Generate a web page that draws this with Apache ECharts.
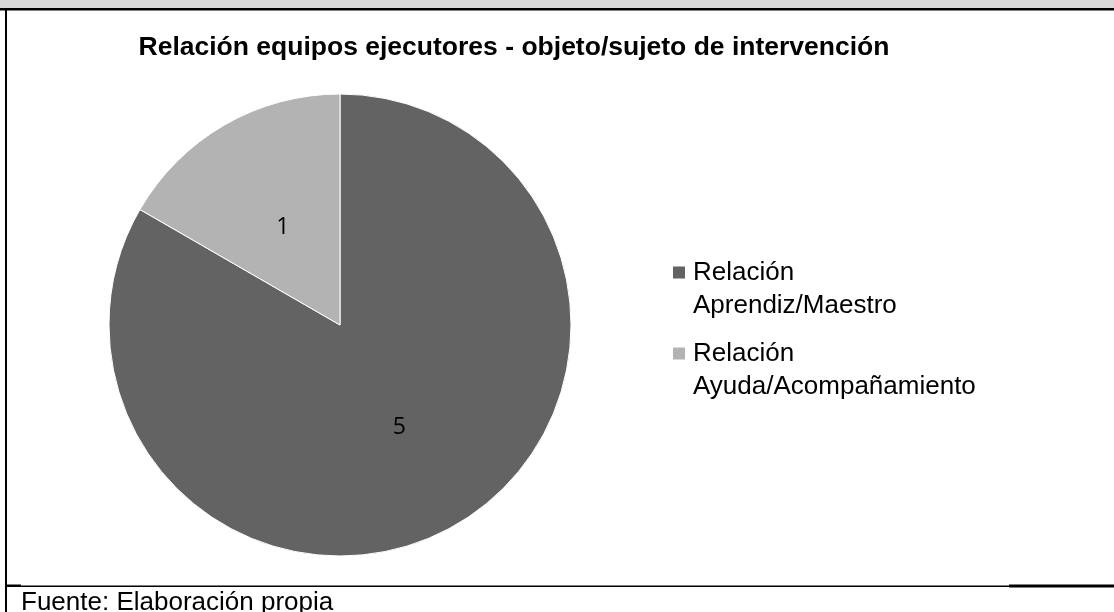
<!DOCTYPE html>
<html>
<head>
<meta charset="utf-8">
<title>Relación equipos ejecutores</title>
<script src="https://cdn.jsdelivr.net/npm/echarts@6/dist/echarts.min.js"></script>
<style>
  html, body { margin: 0; padding: 0; background: #fff; }
  #chart { width: 1114px; height: 612px; }
</style>
</head>
<body>
<div id="chart"></div>
<script>
const title = 'Relación equipos ejecutores - objeto/sujeto de intervención'
const categories = ['Relación Aprendiz/Maestro', 'Relación Ayuda/Acompañamiento']
const values = [5, 1]
const source = 'Fuente: Elaboración propia'

const colors = ['#636363', '#b3b3b3']
const font = '"Liberation Sans", Arial, sans-serif'

const chart = echarts.init(document.getElementById('chart'), null, { renderer: 'canvas' })

// legend text: first word on line one, the rest indented under it
const rich = {
  g: { width: 8 },
  i: { width: 20 },
  t: { fontSize: 26, fontFamily: font, color: '#000', lineHeight: 33 }
}
colors.forEach((c, i) => {
  rich['s' + i] = { width: 12, height: 12, backgroundColor: c }
})

chart.setOption({
  animation: false,
  color: colors,
  title: {
    text: title,
    left: 514,
    textAlign: 'center',
    top: 34,
    padding: 0,
    textStyle: {
      fontFamily: font,
      fontSize: 26.5,
      fontWeight: 'bold',
      color: '#000'
    }
  },
  legend: {
    orient: 'vertical',
    left: 667,
    top: 255,
    padding: 0,
    itemGap: 13,
    itemWidth: 0,
    itemHeight: 66,
    selectedMode: false,
    data: categories,
    formatter: name => {
      const idx = categories.indexOf(name)
      const cut = name.indexOf(' ')
      return '{s' + idx + '|}{g|}{t|' + name.slice(0, cut) + '}\n{i|}{t|' + name.slice(cut + 1) + '}'
    },
    textStyle: { rich: rich }
  },
  graphic: [
    // grey band and frame lines
    { type: 'rect', shape: { x: 0, y: 0, width: 1114, height: 8 }, style: { fill: '#d9d9d9' }, silent: true },
    { type: 'rect', shape: { x: 0, y: 8, width: 1114, height: 2.5 }, style: { fill: '#000' }, silent: true },
    { type: 'rect', shape: { x: 5, y: 8, width: 2, height: 604 }, style: { fill: '#000' }, silent: true },
    { type: 'rect', shape: { x: 6, y: 585.5, width: 1003, height: 1.5 }, style: { fill: '#000' }, silent: true },
    { type: 'rect', shape: { x: 6, y: 584.5, width: 15, height: 1.5 }, style: { fill: '#000' }, silent: true },
    { type: 'rect', shape: { x: 1009, y: 584.5, width: 105, height: 3 }, style: { fill: '#000' }, silent: true },
    {
      type: 'text',
      left: 21,
      top: 590,
      silent: true,
      style: { text: source, font: '26px ' + font, fill: '#000' }
    }
  ],
  series: [{
    type: 'pie',
    center: [340, 325],
    radius: 231,
    startAngle: 90,
    clockwise: true,
    silent: true,
    itemStyle: { borderColor: '#fff', borderWidth: 1 },
    label: {
      show: true,
      position: 'inside',
      formatter: '{c}',
      fontFamily: '"Open Sans", "Liberation Sans", sans-serif',
      fontSize: 23,
      color: '#000'
    },
    labelLine: { show: false },
    data: categories.map((name, i) => ({
      name: name,
      value: values[i],
      // small slice label sits a bit lower in the original
      label: i === 1 ? { offset: [2, 5] } : undefined
    }))
  }]
})
</script>
</body>
</html>
